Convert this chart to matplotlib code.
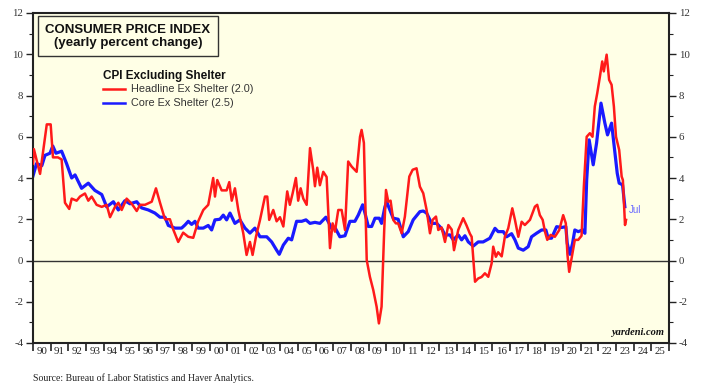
import matplotlib
matplotlib.use("Agg")
import matplotlib.pyplot as plt
from matplotlib.patches import Rectangle
from matplotlib.ticker import FixedLocator, NullFormatter, FixedFormatter

# Headline CPI excluding shelter (decimal year, % y/y)
red_years = [1990.0, 1990.05, 1990.4, 1990.78, 1991.0, 1991.13, 1991.41, 1991.62, 1991.81, 1992.05,
             1992.19, 1992.47, 1992.66, 1992.94, 1993.13, 1993.32, 1993.6, 1993.89, 1994.17, 1994.36,
             1994.64, 1994.83, 1995.02, 1995.3, 1995.59, 1995.87, 1996.06, 1996.34, 1996.72, 1996.96,
             1997.19, 1997.47, 1997.75, 1997.94, 1998.22, 1998.5, 1998.79, 1999.07, 1999.35, 1999.64,
             1999.92, 2000.2, 2000.3, 2000.43, 2000.68, 2000.96, 2001.11, 2001.25, 2001.43, 2001.62,
             2001.9, 2002.09, 2002.28, 2002.43, 2002.62, 2002.85, 2003.13, 2003.26, 2003.37, 2003.6,
             2003.79, 2003.98, 2004.17, 2004.39, 2004.54, 2004.7, 2004.88, 2005.01, 2005.15, 2005.3,
             2005.49, 2005.68, 2005.86, 2005.96, 2006.09, 2006.24, 2006.43, 2006.62, 2006.81, 2006.96,
             2007.09, 2007.28, 2007.47, 2007.66, 2007.84, 2008.04, 2008.32, 2008.51, 2008.6, 2008.73,
             2008.89, 2009.07, 2009.26, 2009.45, 2009.58, 2009.73, 2009.88, 2009.98, 2010.11, 2010.24,
             2010.39, 2010.54, 2010.67, 2010.87, 2011.05, 2011.3, 2011.49, 2011.71, 2011.9, 2012.09,
             2012.28, 2012.47, 2012.62, 2012.81, 2012.94, 2013.13, 2013.32, 2013.51, 2013.7, 2013.83,
             2014.07, 2014.35, 2014.54, 2014.73, 2014.83, 2015.02, 2015.2, 2015.39, 2015.58, 2015.77,
             2015.96, 2016.05, 2016.2, 2016.33, 2016.53, 2016.71, 2016.9, 2017.13, 2017.28, 2017.47,
             2017.66, 2017.84, 2018.13, 2018.41, 2018.54, 2018.69, 2018.85, 2018.98, 2019.11, 2019.3,
             2019.54, 2019.79, 2020.01, 2020.16, 2020.25, 2020.35, 2020.5, 2020.67, 2020.86, 2021.05,
             2021.18, 2021.34, 2021.52, 2021.67, 2021.8, 2021.94, 2022.09, 2022.22, 2022.31, 2022.47,
             2022.61, 2022.75, 2022.88, 2023.0, 2023.18, 2023.32, 2023.39, 2023.46, 2023.51, 2023.57]
red_vals = [4.7, 5.4, 4.2, 6.6, 6.6, 5.0, 5.0, 4.9, 2.8, 2.5,
            3.0, 2.9, 3.1, 3.25, 2.9, 3.1, 2.7, 2.6, 2.7, 2.1,
            2.6, 2.8, 2.45, 3.0, 2.75, 2.4, 2.7, 2.7, 2.85, 3.5,
            2.8, 2.0, 2.0, 1.5, 0.9, 1.35, 1.15, 1.1, 1.9, 2.45,
            2.7, 4.0, 3.1, 3.9, 3.4, 3.4, 3.8, 2.9, 3.5, 2.45,
            1.33, 0.27, 0.9, 0.27, 1.15, 1.97, 3.1, 3.1, 1.97, 2.45,
            1.9, 2.1, 1.65, 3.35, 2.7, 3.27, 4.0, 2.9, 3.5, 3.0,
            2.7, 5.45, 4.4, 3.6, 4.5, 3.65, 4.3, 4.05, 0.6, 1.8,
            1.4, 2.45, 2.45, 1.48, 4.8, 4.55, 4.3, 6.0, 6.33, 5.7,
            0.02, -0.79, -1.43, -2.24, -3.05, -2.24, 1.48, 3.42, 2.85, 2.9,
            1.97, 1.8, 1.8, 1.32, 2.13, 4.07, 4.4, 4.47, 3.58, 3.26,
            2.45, 1.32, 1.97, 2.13, 1.48, 1.6, 0.9, 1.72, 1.5, 0.5,
            1.48, 2.05, 1.7, 1.3, 1.15, -1.03, -0.87, -0.8, -0.62, -0.79,
            -0.14, 0.67, 0.18, 0.4, 0.2, 1.15, 1.56, 2.53, 1.97, 1.15,
            1.88, 1.72, 1.97, 2.61, 2.7, 2.2, 1.97, 1.4, 1.0, 1.24,
            1.15, 1.48, 2.2, 1.8, 0.3, -0.55, 0.18, 1.0, 1.0, 1.2,
            3.58, 6.0, 6.17, 6.0, 7.47, 8.12, 8.92, 9.65, 9.17, 9.98,
            8.76, 8.52, 7.47, 6.0, 5.36, 4.07, 3.9, 2.61, 1.72, 1.97]

# Core CPI excluding shelter
blue_years = [1990.0, 1990.2, 1990.5, 1990.68, 1990.96, 1991.12, 1991.3, 1991.62, 1991.9, 1992.19,
              1992.38, 1992.75, 1993.13, 1993.5, 1993.89, 1994.17, 1994.55, 1994.83, 1995.2, 1995.49,
              1995.87, 1996.15, 1996.53, 1996.9, 1997.19, 1997.47, 1997.66, 1998.04, 1998.41, 1998.6,
              1998.79, 1998.98, 1999.17, 1999.35, 1999.64, 1999.92, 2000.11, 2000.3, 2000.58, 2000.77,
              2000.96, 2001.15, 2001.43, 2001.71, 2002.0, 2002.28, 2002.56, 2002.85, 2003.23, 2003.51,
              2003.79, 2003.94, 2004.17, 2004.45, 2004.64, 2004.92, 2005.21, 2005.45, 2005.68, 2005.96,
              2006.24, 2006.58, 2006.81, 2006.9, 2007.09, 2007.37, 2007.66, 2007.94, 2008.22, 2008.41,
              2008.66, 2008.79, 2008.98, 2009.17, 2009.36, 2009.6, 2009.73, 2009.92, 2010.02, 2010.2,
              2010.39, 2010.67, 2010.96, 2011.24, 2011.52, 2011.9, 2012.09, 2012.28, 2012.56, 2012.85,
              2013.13, 2013.32, 2013.6, 2013.79, 2014.07, 2014.26, 2014.45, 2014.64, 2014.92, 2015.2,
              2015.48, 2015.86, 2016.15, 2016.33, 2016.62, 2016.81, 2017.09, 2017.28, 2017.47, 2017.75,
              2018.03, 2018.22, 2018.5, 2018.79, 2019.03, 2019.16, 2019.35, 2019.64, 2019.92, 2020.16,
              2020.24, 2020.39, 2020.54, 2020.67, 2020.86, 2021.11, 2021.24, 2021.34, 2021.48, 2021.71,
              2021.9, 2022.15, 2022.37, 2022.52, 2022.75, 2022.9, 2023.07, 2023.18, 2023.37, 2023.5]
blue_vals = [4.1, 4.7, 4.6, 5.1, 5.2, 5.55, 5.2, 5.3, 4.7, 4.0,
             4.15, 3.5, 3.75, 3.4, 3.2, 2.6, 2.85, 2.45, 2.9, 2.75,
             2.85, 2.55, 2.45, 2.3, 2.1, 2.1, 1.7, 1.57, 1.57, 1.72,
             1.9, 1.75, 1.9, 1.57, 1.57, 1.7, 1.48, 1.97, 2.0, 2.2,
             1.97, 2.3, 1.8, 1.97, 1.57, 1.33, 1.57, 1.15, 1.15, 0.9,
             0.5, 0.3, 0.75, 1.08, 1.0, 1.9, 1.9, 1.97, 1.8, 1.85,
             1.8, 2.1, 1.72, 1.55, 1.6, 1.15, 1.2, 1.9, 1.9, 2.2,
             2.7, 2.3, 1.65, 1.65, 2.05, 2.05, 1.8, 2.6, 2.85, 2.45,
             2.05, 2.0, 1.15, 1.4, 1.97, 2.37, 2.4, 2.3, 1.8, 1.8,
             1.55, 1.24, 1.24, 1.0, 1.24, 1.0, 1.2, 0.9, 0.7, 0.9,
             0.9, 1.08, 1.56, 1.4, 1.4, 1.15, 1.3, 1.0, 0.6, 0.5,
             0.67, 1.15, 1.32, 1.48, 1.48, 1.08, 1.08, 1.64, 1.6, 1.64,
             0.83, 0.3, 0.83, 1.48, 1.4, 1.48, 1.32, 3.9, 5.85, 4.64,
             5.69, 7.63, 6.66, 6.09, 6.66, 5.52, 4.23, 3.75, 3.67, 2.61]

year_labels = ["90", "91", "92", "93", "94", "95", "96", "97", "98", "99", "00", "01", "02", "03",
               "04", "05", "06", "07", "08", "09", "10", "11", "12", "13", "14", "15", "16", "17",
               "18", "19", "20", "21", "22", "23", "24", "25"]
y_ticks = [-4, -2, 0, 2, 4, 6, 8, 10, 12]

serif = ["Liberation Serif", "DejaVu Serif"]
sans = ["Liberation Sans", "DejaVu Sans"]
BG = "#FFFFE6"

fig = plt.figure(figsize=(7.11, 3.88), dpi=100)
ax = fig.add_axes([33 / 711, 1 - 343 / 388, (669 - 33) / 711, (343 - 13) / 388])
ax.set_facecolor(BG)

ax.axhline(0, color="#333333", lw=1.0, zorder=1)
ax.plot(red_years, red_vals, color="#FF1A1A", lw=1.8, zorder=3, solid_joinstyle="round")
ax.plot(blue_years, blue_vals, color="#1A1AFF", lw=2.3, zorder=2, solid_joinstyle="round")

ax.set_xlim(1990, 2026)
ax.set_ylim(-4, 12)

# x-axis: year boundary ticks, labels centred between
ax.xaxis.set_major_locator(FixedLocator(list(range(1990, 2027))))
ax.xaxis.set_major_formatter(NullFormatter())
ax.xaxis.set_minor_locator(FixedLocator([1990.5 + i for i in range(len(year_labels))]))
ax.xaxis.set_minor_formatter(FixedFormatter(year_labels))
ax.tick_params(axis="x", which="major", direction="out", length=6, width=1.2, color="#222222")
ax.tick_params(axis="x", which="minor", length=0, pad=3, labelsize=7.8, labelcolor="#222222")
for lab in ax.xaxis.get_minorticklabels():
    lab.set_family(serif)

ax.yaxis.set_major_locator(FixedLocator(y_ticks))
ax.yaxis.set_minor_locator(FixedLocator([-3, -1, 1, 3, 5, 7, 9, 11]))
ax.tick_params(axis="y", which="both", left=True, right=True, labelleft=True, labelright=True,
               direction="out", color="#222222")
ax.tick_params(axis="y", which="major", length=5, width=1.0, labelsize=7.8, labelcolor="#333333", pad=2)
ax.tick_params(axis="y", which="minor", length=3, width=0.8)
ax.set_yticklabels([str(v) for v in y_ticks])
for lab in ax.yaxis.get_ticklabels(which="major"):
    lab.set_family(serif)

for s in ax.spines.values():
    s.set_linewidth(1.5)
    s.set_color("#222222")

# Title box
ax.add_patch(Rectangle((0.0079, 0.870), 0.283, 0.121, transform=ax.transAxes,
                       facecolor=BG, edgecolor="#333333", lw=1.0, zorder=4))
ax.text(0.149, 0.949, "CONSUMER PRICE INDEX", transform=ax.transAxes, ha="center", va="center",
        fontsize=9.5, fontweight="bold", family=sans, color="#111111", zorder=5)
ax.text(0.149, 0.909, "(yearly percent change)", transform=ax.transAxes, ha="center", va="center",
        fontsize=9.5, fontweight="bold", family=sans, color="#111111", zorder=5)

# Legend
ax.text(0.110, 0.808, "CPI Excluding Shelter", transform=ax.transAxes, ha="left", va="center",
        fontsize=8.5, fontweight="bold", family=sans, color="#111111")
ax.plot([0.110, 0.145], [0.770, 0.770], transform=ax.transAxes, color="#FF1A1A", lw=1.8)
ax.plot([0.110, 0.145], [0.728, 0.728], transform=ax.transAxes, color="#1A1AFF", lw=1.8)
ax.text(0.154, 0.770, "Headline Ex Shelter (2.0)", transform=ax.transAxes, ha="left", va="center",
        fontsize=7.8, family=sans, color="#333333")
ax.text(0.154, 0.728, "Core Ex Shelter (2.5)", transform=ax.transAxes, ha="left", va="center",
        fontsize=7.8, family=sans, color="#333333")

ax.text(2023.75, 2.45, "Jul", ha="left", va="center", fontsize=7, family=sans, color="#6A6AFF")

ax.text(0.992, 0.018, "yardeni.com", transform=ax.transAxes, ha="right", va="bottom",
        fontsize=7.5, fontweight="bold", style="italic", family=serif, color="#111111")

fig.text(33 / 711, 1 - 378 / 388, "Source: Bureau of Labor Statistics and Haver Analytics.",
         ha="left", va="center", fontsize=7, family=serif, color="#222222")

fig.savefig("out.png", dpi=100, facecolor="white")
